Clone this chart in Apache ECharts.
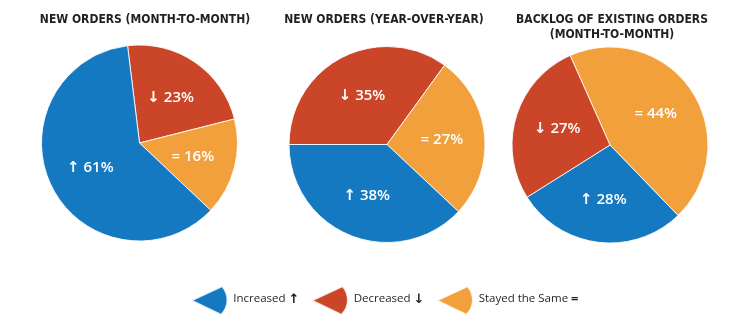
<!DOCTYPE html>
<html>
<head>
<meta charset="utf-8">
<script src="https://cdn.jsdelivr.net/npm/echarts@6/dist/echarts.min.js"></script>
<style>
  html, body { margin: 0; padding: 0; background: #ffffff; }
  #chart { width: 750px; height: 328px; }
</style>
</head>
<body>
<div id="chart"></div>
<script>
// Survey response categories and their marker glyphs
const categories = ['Increased', 'Decreased', 'Stayed the Same'];
const glyphs = ['↑', '↓', '='];

// Share of respondents (%) per category, in category order
const newOrdersMoM = [61, 23, 16];
const newOrdersYoY = [38, 35, 27];
const backlogMoM = [28, 27, 44];

const chartTitles = [
  'NEW ORDERS (MONTH-TO-MONTH)',
  'NEW ORDERS (YEAR-OVER-YEAR)',
  'BACKLOG OF EXISTING ORDERS\n(MONTH-TO-MONTH)'
];

const palette = {
  'Increased': '#1479c0',
  'Decreased': '#cb4628',
  'Stayed the Same': '#f1a03b'
};

// Per-pie layout: slice order (clockwise), start angle, centre
const pies = [
  { values: newOrdersMoM, order: [1, 2, 0], start: 97,  center: [139.5, 143], titleX: 145 },
  { values: newOrdersYoY, order: [1, 2, 0], start: 180, center: [387, 144.5], titleX: 384 },
  { values: backlogMoM,   order: [2, 0, 1], start: 114, center: [610, 145],   titleX: 612 }
];
const pieRadius = 98;
const labelPush = 1.06; // inside labels sit a little beyond half radius

const titleFont = "'Liberation Sans Narrow', 'DejaVu Sans Condensed', 'Liberation Sans', sans-serif";
const labelFont = "'Open Sans', 'DejaVu Sans', sans-serif";

const chart = echarts.init(document.getElementById('chart'), null, { renderer: 'canvas' });

const series = pies.map(function (p) {
  return {
    type: 'pie',
    center: p.center,
    radius: [0, pieRadius],
    startAngle: p.start,
    clockwise: true,
    avoidLabelOverlap: false,
    silent: true,
    animation: false,
    itemStyle: { borderColor: 'rgba(255,255,255,0.85)', borderWidth: 1 },
    label: {
      show: true,
      position: 'inside',
      color: '#ffffff',
      fontFamily: labelFont,
      fontSize: 15,
      fontWeight: 600,
      formatter: function (d) {
        return glyphs[categories.indexOf(d.name)] + ' ' + d.value + '%';
      }
    },
    labelLayout: function (params) {
      const r = params.labelRect;
      const lx = r.x + r.width / 2;
      const ly = r.y + r.height / 2;
      return {
        x: p.center[0] + (lx - p.center[0]) * labelPush,
        y: p.center[1] + (ly - p.center[1]) * labelPush,
        align: 'center',
        verticalAlign: 'middle'
      };
    },
    labelLine: { show: false },
    data: p.order.map(function (i) {
      return {
        name: categories[i],
        value: p.values[i],
        itemStyle: { color: palette[categories[i]] }
      };
    })
  };
});

const wedge = 'path://M0,13 L28,0 C34,7 35,18 27,26 Z';

chart.setOption({
  backgroundColor: '#ffffff',
  title: pies.map(function (p, i) {
    return {
      text: chartTitles[i],
      left: p.titleX,
      top: 12,
      padding: 0,
      textAlign: 'center',
      textStyle: {
        fontFamily: titleFont,
        fontSize: 12,
        fontWeight: 'bold',
        color: '#231f20',
        lineHeight: 15
      }
    };
  }),
  legend: {
    data: categories,
    left: 190,
    top: 285,
    padding: 0,
    itemWidth: 38,
    itemHeight: 29,
    itemGap: 11,
    icon: wedge,
    selectedMode: false,
    textStyle: {
      fontFamily: labelFont,
      fontSize: 11.5,
      color: '#231f20',
      padding: [0, 0, 3, 0],
      rich: {
        g: { fontFamily: labelFont, fontSize: 13, fontWeight: 'bold', color: '#231f20' }
      }
    },
    formatter: function (name) {
      return name + ' {g|' + glyphs[categories.indexOf(name)] + '}';
    }
  },
  series: series
});
</script>
</body>
</html>
